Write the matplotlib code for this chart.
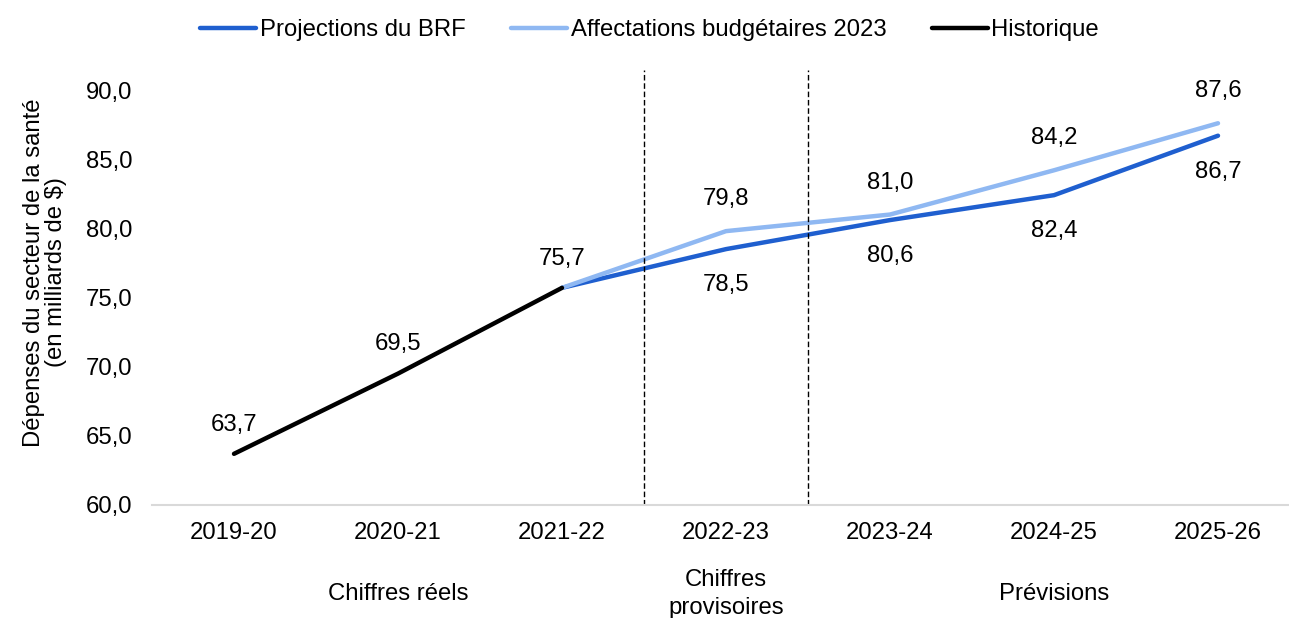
import matplotlib
matplotlib.use("Agg")
import matplotlib.pyplot as plt
import numpy as np

plt.rcParams['font.family'] = ['Liberation Sans', 'DejaVu Sans']

categories = ["2019-20", "2020-21", "2021-22", "2022-23", "2023-24", "2024-25", "2025-26"]
historique = [63.7, 69.5, 75.7, None, None, None, None]
brf = [None, None, 75.7, 78.5, 80.6, 82.4, 86.7]
affectations = [None, None, 75.7, 79.8, 81.0, 84.2, 87.6]
groups = ["Chiffres réels", "Chiffres\nprovisoires", "Prévisions"]
group_pos = [1, 3, 5]
yticks = [60, 65, 70, 75, 80, 85, 90]

c_brf = "#1F5FCF"
c_aff = "#8FB8F2"
c_hist = "#000000"

W, H = 1289, 618
fig = plt.figure(figsize=(W / 100, H / 100), dpi=100)
ax_left = 152 / W
ax_right = 1300 / W
ax_bottom = 1 - 505 / H
ax_top = 1 - 70 / H
ax = fig.add_axes([ax_left, ax_bottom, ax_right - ax_left, ax_top - ax_bottom])

x = np.arange(len(categories))

def series(vals):
    xs = [i for i, v in enumerate(vals) if v is not None]
    ys = [v for v in vals if v is not None]
    return xs, ys

xb, yb = series(brf)
xa, ya = series(affectations)
xh, yh = series(historique)

ax.plot(xb, yb, color=c_brf, lw=3.2, label="Projections du BRF", solid_capstyle='round')
ax.plot(xa, ya, color=c_aff, lw=3.2, label="Affectations budgétaires 2023", solid_capstyle='round')
ax.plot(xh, yh, color=c_hist, lw=3.2, label="Historique", solid_capstyle='round')

fs = 17.2
for xi, yi in zip(xh, yh):
    ax.annotate(f"{yi:.1f}".replace(".", ","), (xi, yi), xytext=(0, 21), textcoords="offset points",
                ha="center", va="center", fontsize=fs)
for xi, yi in zip(xa[1:], ya[1:]):
    ax.annotate(f"{yi:.1f}".replace(".", ","), (xi, yi), xytext=(0, 23), textcoords="offset points",
                ha="center", va="center", fontsize=fs)
for xi, yi in zip(xb[1:], yb[1:]):
    ax.annotate(f"{yi:.1f}".replace(".", ","), (xi, yi), xytext=(0, -26), textcoords="offset points",
                ha="center", va="center", fontsize=fs)

ax.axvline(2.5, color="black", lw=1.0, ls=(0, (4, 2)))
ax.axvline(3.5, color="black", lw=1.0, ls=(0, (4, 2)))

ax.set_xlim(-0.5, len(categories) - 0.5)
ax.set_ylim(60, 91.45)
ax.set_yticks(yticks)
ax.set_yticklabels([f"{v:.1f}".replace(".", ",") for v in yticks], fontsize=fs)
ax.set_xticks(x)
ax.set_xticklabels(categories, fontsize=fs)
ax.tick_params(axis="both", length=0)
ax.tick_params(axis="x", pad=12)
ax.tick_params(axis="y", pad=14)

for s in ["top", "right", "left"]:
    ax.spines[s].set_visible(False)
ax.spines["bottom"].set_color("#D9D9D9")
ax.spines["bottom"].set_linewidth(1.5)

ax.set_ylabel("Dépenses du secteur de la santé\n(en milliards de $)", fontsize=fs, linespacing=1.0)
ax.yaxis.set_label_coords(-0.074, 0.535)

for g, p in zip(groups, group_pos):
    xf = (152 + (p + 0.5) * 164) / W
    fig.text(xf, 1 - 594 / H, g, ha="center", va="center", fontsize=fs, linespacing=1.3)

leg = fig.legend(loc="center", bbox_to_anchor=(0.5 + 5 / W, 1 - 30 / H), ncol=3, frameon=False,
                 fontsize=fs, handlelength=2.35, handletextpad=0.15, columnspacing=1.9)

fig.savefig("out.png", dpi=100)
